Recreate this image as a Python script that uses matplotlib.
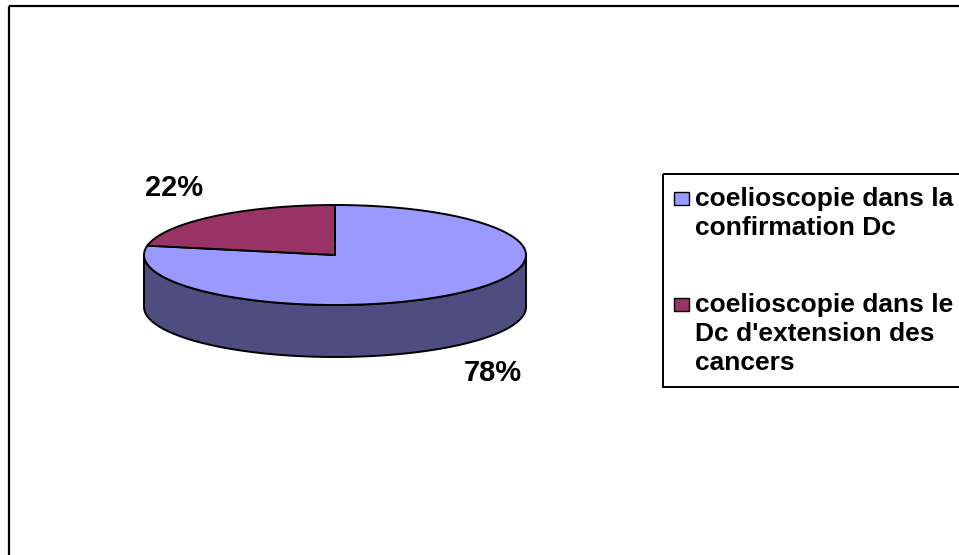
import numpy as np
import matplotlib.pyplot as plt
from matplotlib.patches import Polygon, Rectangle

plt.rcParams['font.family'] = ['Liberation Sans', 'DejaVu Sans']

# données du graphique
categories = ["coelioscopie dans la\nconfirmation Dc",
              "coelioscopie dans le\nDc d'extension des\ncancers"]
values = [78, 22]
colors = ["#9999FF", "#993366"]

W, H = 959, 555
fig = plt.figure(figsize=(W / 100, H / 100), dpi=100)
ax = fig.add_axes([0, 0, 1, 1])
ax.set_xlim(0, W)
ax.set_ylim(H, 0)
ax.axis("off")

# cadre extérieur du graphique
ax.add_patch(Rectangle((8.5, 6), 1200, 800, fill=False, lw=1.6, ec="black"))

# camembert 3D (ellipse + épaisseur)
cx, cy, rx, ry, depth = 335, 255, 191, 50, 52
total = float(sum(values))


def arc(t0, t1, dy=0.0):
    t = np.radians(np.linspace(t0, t1, 200))
    return np.column_stack([cx + rx * np.cos(t), cy - ry * np.sin(t) + dy])


def darker(hexcol, f=0.5):
    r, g, b = (int(hexcol[i:i + 2], 16) for i in (1, 3, 5))
    return (r * f / 255, g * f / 255, b * f / 255)


# angles des parts, départ à midi dans le sens horaire
spans = []
cum = 0.0
for v in values:
    hi = 90 - cum / total * 360
    cum += v
    lo = 90 - cum / total * 360
    spans.append((lo, hi))

# faces latérales (moitié avant seulement)
for (lo, hi), col in zip(spans, colors):
    for k in (-1, 0, 1):
        a = max(lo, -180 + 360 * k)
        b = min(hi, 0 + 360 * k)
        if b > a:
            top = arc(a, b)
            bot = arc(b, a, depth)
            ax.add_patch(Polygon(np.vstack([top, bot]), closed=True,
                                 fc=darker(col), ec="black", lw=1.4,
                                 joinstyle="round"))

# dessus des parts
for (lo, hi), col in zip(spans, colors):
    pts = np.vstack([[cx, cy], arc(lo, hi)])
    ax.add_patch(Polygon(pts, closed=True, fc=col, ec="black", lw=1.4,
                         joinstyle="round"))

# étiquettes de pourcentage
label_xy = [(493, 373), (174, 188)]
for v, (x, y) in zip(values, label_xy):
    ax.text(x, y, f"{v / total * 100:.0f}%", fontsize=21, fontweight="bold",
            ha="center", va="center")

# légende
ax.add_patch(Rectangle((663, 174), 400, 213, fill=False, lw=1.4, ec="black"))
first_baselines = [206, 312]
for lab, col, yb in zip(categories, colors, first_baselines):
    ax.add_patch(Rectangle((674, yb - 14), 15, 13, fc=col, ec="black", lw=1.0))
    for j, line in enumerate(lab.split("\n")):
        ax.text(695, yb + 29 * j, line, fontsize=19, fontweight="bold",
                ha="left", va="baseline")

fig.savefig("out.png", dpi=100)
